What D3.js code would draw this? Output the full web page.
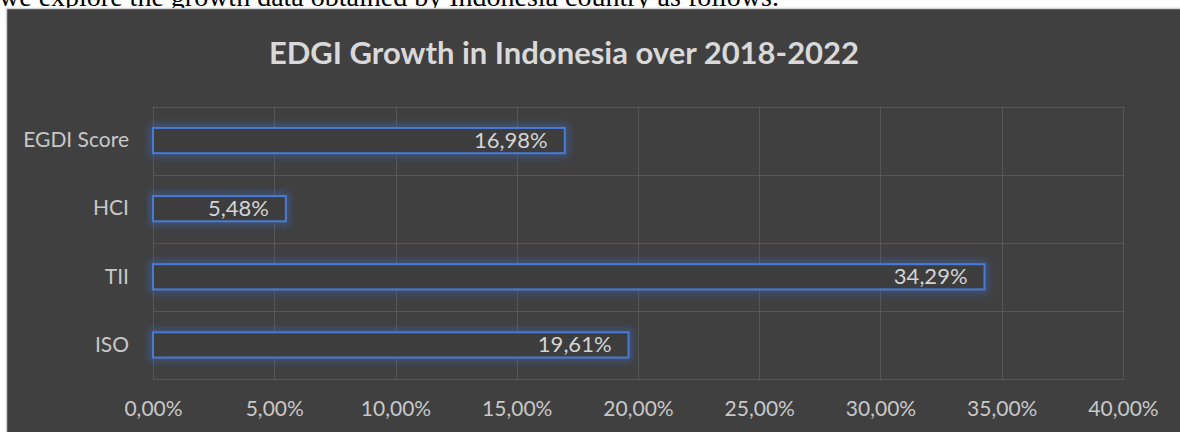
<!DOCTYPE html>
<html>
<head>
<meta charset="utf-8">
<script src="https://cdn.jsdelivr.net/npm/d3@7"></script>
<style>
  html, body { margin: 0; padding: 0; background: #ffffff; overflow: hidden; }
  svg { display: block; }
</style>
</head>
<body>
<svg id="chart" width="1180" height="432"></svg>
<script>
const categories = ["EGDI Score", "HCI", "TII", "ISO"];
const values = [0.1698, 0.0548, 0.3429, 0.1961];
const valueLabels = ["16,98%", "5,48%", "34,29%", "19,61%"];
const xTicks = [0, 0.05, 0.10, 0.15, 0.20, 0.25, 0.30, 0.35, 0.40];
const title = "EDGI Growth in Indonesia over 2018-2022";
const pageText = "we explore the growth data obtained by Indonesia country as follows.";

const svg = d3.select("#chart");
const W = 1180, H = 432;

// page text (partly cut off at top, as in the reference)
svg.append("text")
  .attr("x", -1).attr("y", 6)
  .attr("font-family", "'Liberation Serif', 'Times New Roman', serif")
  .attr("font-size", 28)
  .attr("fill", "#000")
  .text(pageText);

// panel
svg.append("rect")
  .attr("x", 6.5).attr("y", 8.5)
  .attr("width", W).attr("height", H)
  .attr("fill", "#404040")
  .attr("stroke", "#d0d0d0").attr("stroke-width", 1.5);

const defs = svg.append("defs");
const glow = defs.append("filter").attr("id", "glow")
  .attr("x", "-5%").attr("y", "-80%").attr("width", "110%").attr("height", "260%");
glow.append("feGaussianBlur").attr("in", "SourceGraphic").attr("stdDeviation", 3.5).attr("result", "b");
glow.append("feMerge").selectAll("feMergeNode")
  .data(["b"]).join("feMergeNode").attr("in", d => d);

const x = d3.scaleLinear().domain([0, 0.4]).range([153, 1123]);
const y = d3.scaleBand().domain(categories).range([106.5, 379]).paddingInner(0.63).paddingOuter(0.315);
const step = y.step();

// vertical gridlines
svg.append("g").selectAll("line").data(xTicks).join("line")
  .attr("x1", d => Math.round(x(d)) + 0.5).attr("x2", d => Math.round(x(d)) + 0.5)
  .attr("y1", 106.5).attr("y2", 379.5)
  .attr("stroke", "#575757").attr("stroke-width", 1);

// horizontal gridlines at band boundaries
const hLines = categories.map(c => y(c) - (step - y.bandwidth()) / 2);
hLines.push(379);
svg.append("g").selectAll("line").data(hLines).join("line")
  .attr("x1", 153).attr("x2", 1123.5)
  .attr("y1", d => Math.round(d) + 0.5).attr("y2", d => Math.round(d) + 0.5)
  .attr("stroke", "#575757").attr("stroke-width", 1);

// bars
const bars = svg.append("g");
bars.selectAll("rect.glow").data(categories).join("rect")
  .attr("class", "glow")
  .attr("x", x(0)).attr("y", c => y(c))
  .attr("width", (c, i) => x(values[i]) - x(0))
  .attr("height", y.bandwidth())
  .attr("fill", "none")
  .attr("stroke", "#3a64b0").attr("stroke-width", 7).attr("stroke-opacity", 0.6)
  .attr("filter", "url(#glow)");
bars.selectAll("rect.bar").data(categories).join("rect")
  .attr("class", "bar")
  .attr("x", x(0)).attr("y", c => y(c))
  .attr("width", (c, i) => x(values[i]) - x(0))
  .attr("height", y.bandwidth())
  .attr("fill", "#3d3d3d")
  .attr("stroke", "#4a7bd4").attr("stroke-width", 2);

// value labels
svg.append("g").selectAll("text").data(categories).join("text")
  .attr("x", (c, i) => x(values[i]) - 17)
  .attr("y", c => y(c) + y.bandwidth() / 2 + 7.5)
  .attr("text-anchor", "end")
  .attr("font-family", "Lato, 'Open Sans', sans-serif")
  .attr("font-size", 22)
  .attr("fill", "#d4d4d4")
  .text((c, i) => valueLabels[i]);

// y axis labels
const yAxis = d3.axisLeft(y).tickSize(0).tickPadding(0);
const gy = svg.append("g").attr("transform", "translate(129,0)").call(yAxis);
gy.select(".domain").remove();
gy.selectAll("text")
  .attr("font-family", "Lato, 'Open Sans', sans-serif")
  .attr("font-size", 21)
  .attr("fill", "#c8c8c8");

// x axis labels
const xAxis = d3.axisBottom(x).tickValues(xTicks).tickSize(0).tickPadding(0)
  .tickFormat(d => d3.format(".2f")(d * 100).replace(".", ",") + "%");
const gx = svg.append("g").attr("transform", "translate(0,401)").call(xAxis);
gx.select(".domain").remove();
gx.selectAll("text")
  .attr("font-family", "Lato, 'Open Sans', sans-serif")
  .attr("font-size", 21)
  .attr("fill", "#c8c8c8");

// title
svg.append("text")
  .attr("x", 564).attr("y", 64)
  .attr("text-anchor", "middle")
  .attr("font-family", "Lato, 'Open Sans', sans-serif")
  .attr("font-weight", "bold")
  .attr("font-size", 31)
  .attr("fill", "#d9d9d9")
  .text(title);
</script>
</body>
</html>
